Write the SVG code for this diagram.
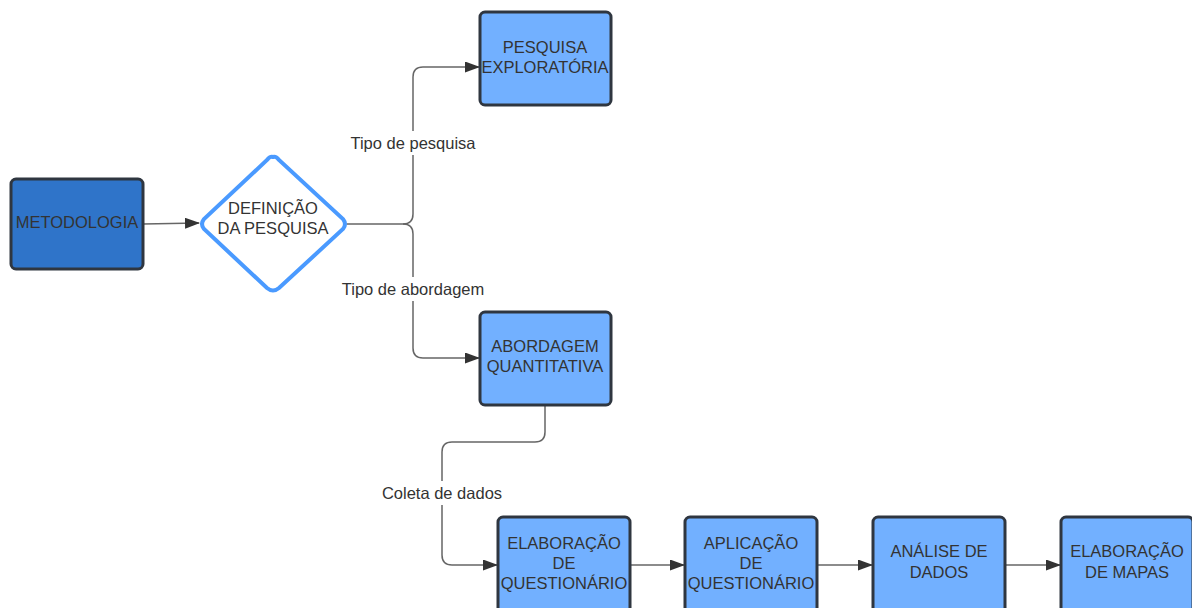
<svg xmlns="http://www.w3.org/2000/svg" width="1192" height="608" viewBox="0 0 1192 608">
<defs>
<marker id="arr" markerWidth="15" markerHeight="11" refX="14" refY="5.5" orient="auto" markerUnits="userSpaceOnUse" viewBox="0 0 15 11">
<path d="M0,0 L15,5.5 L0,11 Z" fill="#333"/>
</marker>
<style>
.box{fill:#72b0ff;stroke:#2f3640;stroke-width:3}
.dark{fill:#2f74c9;stroke:#2f3640;stroke-width:3}
.dia{fill:#fff;stroke:#4a9aff;stroke-width:4}
.t{font-family:"Liberation Sans",Arial,sans-serif;font-size:16.5px;fill:#333;text-anchor:middle}
.c{fill:none;stroke:#666;stroke-width:1.5}
.lbl{fill:#fff}
</style>
</defs>
<rect width="1192" height="608" fill="#fff"/>
<g id="connectors">
<path class="c" d="M143,224 L199,223" marker-end="url(#arr)"/>
<path class="c" d="M347,224 L403,224 Q413,224 413,214 L413,77 Q413,67 423,67 L479,67" marker-end="url(#arr)"/>
<path class="c" d="M403,224 Q413,224 413,234 L413,348 Q413,358 423,358 L479,358" marker-end="url(#arr)"/>
<path class="c" d="M545,405 L545,432 Q545,442 535,442 L452,442 Q442,442 442,452 L442,555 Q442,565 452,565 L497,565" marker-end="url(#arr)"/>
<path class="c" d="M630,565 L684,565" marker-end="url(#arr)"/>
<path class="c" d="M817,565 L872,565" marker-end="url(#arr)"/>
<path class="c" d="M1005,565 L1060,565" marker-end="url(#arr)"/>
<rect class="lbl" x="348" y="131" width="130" height="24"/>
<text class="t" x="413" y="149">Tipo de pesquisa</text>
<rect class="lbl" x="338" y="277" width="150" height="24"/>
<text class="t" x="413" y="295">Tipo de abordagem</text>
<rect class="lbl" x="378" y="481" width="128" height="24"/>
<text class="t" x="442" y="499">Coleta de dados</text>
</g>
<g id="metodologia">
<rect class="dark" x="11" y="179" width="132" height="90" rx="5"/>
<text class="t" x="77" y="228">METODOLOGIA</text>
</g>
<g id="definicao">
<path class="dia" d="M273,157 Q276,156 279,160 L343,219 Q347,224 343,229 L279,288 Q273,293 267,288 L204,229 Q200,224 204,219 L267,160 Q270,156 273,157 Z"/>
<text class="t" x="273" y="214">DEFINIÇÃO</text>
<text class="t" x="273" y="234">DA PESQUISA</text>
</g>
<g id="exploratoria">
<rect class="box" x="480" y="12" width="131" height="93" rx="5"/>
<text class="t" x="545" y="53">PESQUISA</text>
<text class="t" x="545" y="73">EXPLORATÓRIA</text>
</g>
<g id="quantitativa">
<rect class="box" x="480" y="312" width="131" height="93" rx="5"/>
<text class="t" x="545" y="352">ABORDAGEM</text>
<text class="t" x="545" y="372">QUANTITATIVA</text>
</g>
<g id="elab-quest">
<rect class="box" x="498" y="517" width="132" height="100" rx="5"/>
<text class="t" x="564" y="549">ELABORAÇÃO</text>
<text class="t" x="564" y="569">DE</text>
<text class="t" x="564" y="589">QUESTIONÁRIO</text>
</g>
<g id="aplic-quest">
<rect class="box" x="685" y="517" width="132" height="100" rx="5"/>
<text class="t" x="751" y="549">APLICAÇÃO</text>
<text class="t" x="751" y="569">DE</text>
<text class="t" x="751" y="589">QUESTIONÁRIO</text>
</g>
<g id="analise">
<rect class="box" x="873" y="517" width="132" height="100" rx="5"/>
<text class="t" x="939" y="557">ANÁLISE DE</text>
<text class="t" x="939" y="578">DADOS</text>
</g>
<g id="elab-mapas">
<rect class="box" x="1061" y="517" width="132" height="100" rx="5"/>
<text class="t" x="1127" y="557">ELABORAÇÃO</text>
<text class="t" x="1127" y="578">DE MAPAS</text>
</g>
</svg>
